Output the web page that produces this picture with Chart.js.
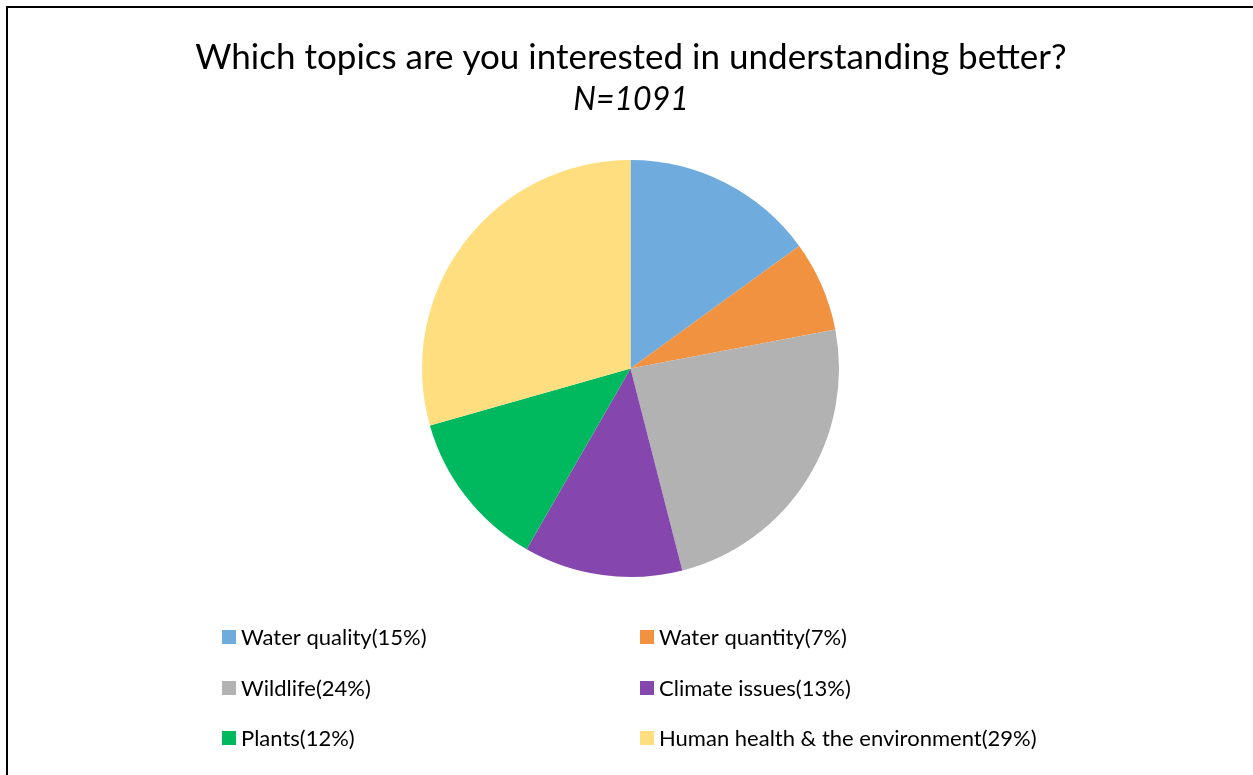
<!DOCTYPE html>
<html>
<head>
<meta charset="utf-8">
<script src="https://cdn.jsdelivr.net/npm/chart.js@4"></script>
<style>
  html, body { margin: 0; padding: 0; background: #fff; overflow: hidden; }
  #wrap { position: relative; width: 1253px; height: 775px; }
  #frame { position: absolute; left: 6px; top: 6px; width: 1400px; height: 900px;
           border-left: 2px solid #000; border-top: 2px solid #000; box-sizing: border-box; }
  canvas { position: absolute; left: 0; top: 0; }
</style>
</head>
<body>
<div id="wrap">
  <div id="frame"></div>
  <canvas id="c" width="1253" height="775"></canvas>
</div>
<script>
const titleText = "Which topics are you interested in understanding better?";
const subtitleText = "N=1091";
const categories = ["Water quality", "Water quantity", "Wildlife", "Climate issues", "Plants", "Human health & the environment"];
const legendPercents = ["15%", "7%", "24%", "13%", "12%", "29%"];
const values = [15.0, 7.0, 24.0, 12.3, 12.3, 29.4];
const colors = ["#6FACDD", "#F19240", "#B2B2B2", "#8547AD", "#00B95F", "#FEDE7E"];

const FONT = "Lato, 'Open Sans', sans-serif";

const overlay = {
  id: 'overlay',
  afterDraw(chart) {
    const ctx = chart.ctx;
    ctx.save();
    ctx.fillStyle = '#000';
    ctx.textAlign = 'center';
    ctx.textBaseline = 'alphabetic';
    ctx.font = "35px " + FONT;
    ctx.fillText(titleText, 631, 69);
    ctx.font = "italic 32px " + FONT;
    ctx.fillText(subtitleText, 631, 110);
    // legend, 2 columns x 3 rows
    const colX = [222, 640];
    const rowY = [645, 696, 746];
    ctx.textAlign = 'left';
    ctx.font = "22px " + FONT;
    chart.data.labels.forEach((lab, i) => {
      const x = colX[i % 2], y = rowY[Math.floor(i / 2)];
      ctx.fillStyle = chart.data.datasets[0].backgroundColor[i];
      ctx.fillRect(x, y - 15, 14, 14);
      ctx.fillStyle = '#000';
      ctx.fillText(lab + "(" + legendPercents[i] + ")", x + 19, y);
    });
    ctx.restore();
  }
};

new Chart(document.getElementById('c'), {
  type: 'pie',
  data: {
    labels: categories,
    datasets: [{ data: values, backgroundColor: colors, borderWidth: 0 }]
  },
  options: {
    responsive: false,
    animation: false,
    layout: { padding: { left: 422, right: 414, top: 160, bottom: 198 } },
    plugins: {
      legend: { display: false },
      title: { display: false },
      tooltip: { enabled: false }
    }
  },
  plugins: [overlay]
});
</script>
</body>
</html>
